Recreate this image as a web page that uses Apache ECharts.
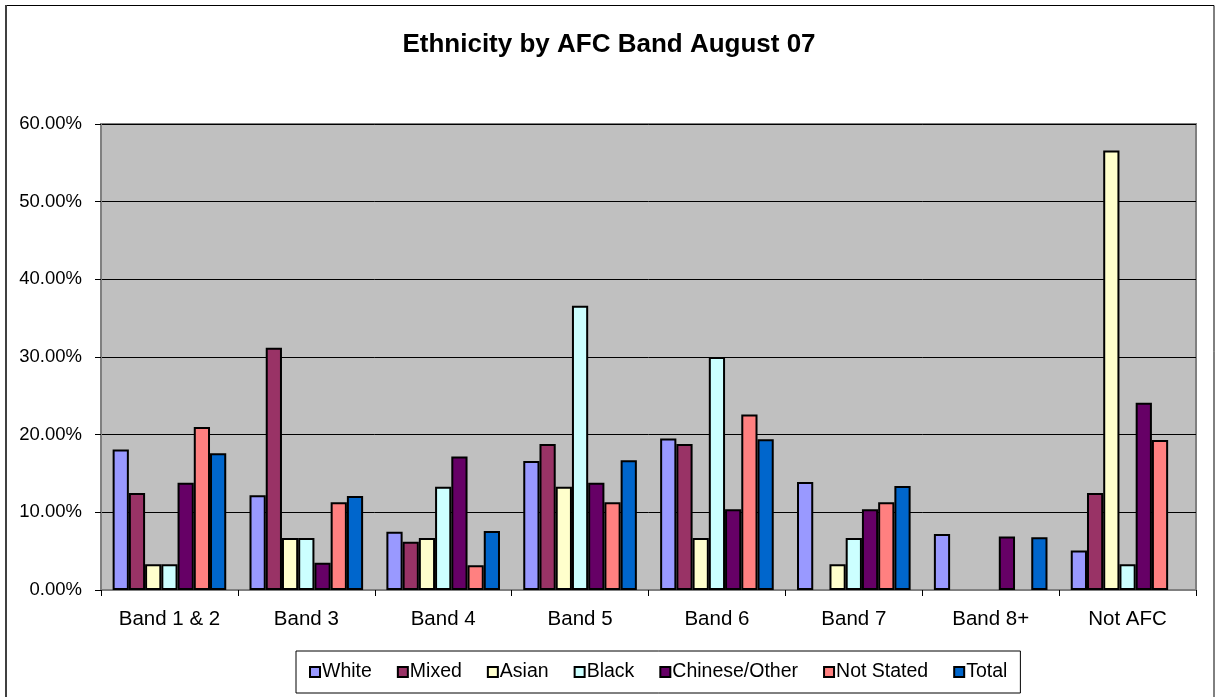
<!DOCTYPE html>
<html>
<head>
<meta charset="utf-8">
<script src="https://cdn.jsdelivr.net/npm/echarts@6/dist/echarts.min.js"></script>
<style>
  html, body { margin: 0; padding: 0; background: #fff; }
  #chart { width: 1218px; height: 697px; }
</style>
</head>
<body>
<div id="chart"></div>
<script>
// AFC bands along the category axis
const bands = ['Band 1 & 2', 'Band 3', 'Band 4', 'Band 5', 'Band 6', 'Band 7', 'Band 8+', 'Not AFC'];

// Share of each ethnic group in each band (percent)
const white        = [18.1, 12.2,  7.5, 16.6, 19.5, 13.9, 7.2,  5.1];
const mixed        = [12.5, 31.2,  6.2, 18.8, 18.8,  0,   0,   12.5];
const asian        = [ 3.3,  6.7,  6.7, 13.3,  6.7,  3.3, 0,   56.6];
const black        = [ 3.3,  6.7, 13.3, 36.6, 30.0,  6.7, 0,    3.3];
const chineseOther = [13.8,  3.5, 17.2, 13.8, 10.4, 10.4, 6.9, 24.1];
const notStated    = [21.0, 11.3,  3.2, 11.3, 22.6, 11.3, 0,   19.3];
const total        = [17.6, 12.1,  7.6, 16.7, 19.4, 13.4, 6.8, null];

// Value axis ticks
const yTicks = { min: 0, max: 60, interval: 10 };

const seriesDefs = [
  ['White', white, '#9999FF'],
  ['Mixed', mixed, '#993366'],
  ['Asian', asian, '#FFFFCC'],
  ['Black', black, '#CCFFFF'],
  ['Chinese/Other', chineseOther, '#660066'],
  ['Not Stated', notStated, '#FF8080'],
  ['Total', total, '#0066CC']
];

const FONT = '"Liberation Sans", Arial, sans-serif';

const chart = echarts.init(document.getElementById('chart'), null, { renderer: 'canvas' });

// zero-height bars get no outline so they don't paint over the axis
const toItems = data => data.map(v => (v === 0 ? { value: 0, itemStyle: { borderWidth: 0 } } : v));

chart.setOption({
  animation: false,
  backgroundColor: '#ffffff',
  title: {
    text: 'Ethnicity by AFC Band August 07',
    left: 'center',
    top: 27,
    textStyle: { fontFamily: FONT, fontSize: 26, fontWeight: 'bold', color: '#000' }
  },
  graphic: [
    {
      type: 'rect',
      shape: { x: 6, y: 5.5, width: 1208, height: 700 },
      style: { fill: null, stroke: '#000', lineWidth: 1 },
      z: 100
    },
    {
      type: 'line',
      shape: { x1: 6, y1: 5, x2: 6, y2: 697 },
      style: { stroke: '#404040', lineWidth: 2 },
      z: 101
    }
  ],
  legend: {
    bottom: 4,
    left: 296,
    itemWidth: 10,
    itemHeight: 10,
    itemGap: 25,
    icon: 'rect',
    padding: [11, 13, 11, 13],
    borderColor: '#000',
    borderWidth: 1,
    textStyle: { fontFamily: FONT, fontSize: 19.5, color: '#000', padding: [0, 0, 0, -3] },
    data: seriesDefs.map(d => d[0])
  },
  grid: {
    left: 101,
    right: 22,
    top: 124,
    bottom: 107,
    show: true,
    backgroundColor: '#C0C0C0',
    borderColor: '#808080',
    borderWidth: 2
  },
  xAxis: {
    type: 'category',
    data: bands,
    axisLine: { lineStyle: { color: '#808080', width: 2 } },
    axisTick: { show: true, interval: 0, length: 6, lineStyle: { color: '#000' } },
    axisLabel: { fontFamily: FONT, fontSize: 20.5, color: '#000', margin: 19, interval: 0 }
  },
  yAxis: {
    type: 'value',
    min: yTicks.min,
    max: yTicks.max,
    interval: yTicks.interval,
    axisLine: { show: true, lineStyle: { color: '#808080', width: 2 } },
    axisTick: { show: true, length: 6, lineStyle: { color: '#000' } },
    axisLabel: {
      fontFamily: FONT, fontSize: 18.5, color: '#000', margin: 19,
      formatter: v => v.toFixed(2) + '%'
    },
    splitLine: { show: true, lineStyle: { color: '#000', width: 1 } }
  },
  series: seriesDefs.map(([name, data, color]) => ({
    name,
    type: 'bar',
    data: toItems(data),
    barGap: '0%',
    barCategoryGap: '17%',
    itemStyle: { color, borderColor: '#000', borderWidth: 2 }
  }))
});
</script>
</body>
</html>
